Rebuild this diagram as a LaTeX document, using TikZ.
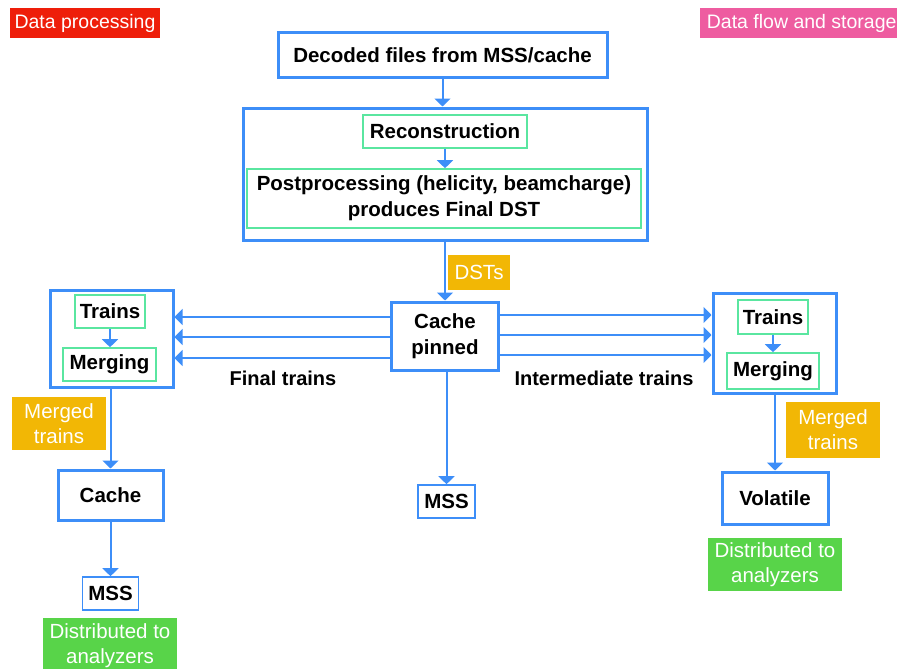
\documentclass[tikz,border=0pt]{standalone}
\usepackage{fontspec}
\setmainfont{Liberation Sans}
\usetikzlibrary{arrows.meta}
\definecolor{bl}{RGB}{61,142,248}
\definecolor{mint}{RGB}{90,230,160}
\definecolor{og}{RGB}{242,183,5}
\definecolor{gf}{RGB}{88,212,73}
\definecolor{rd}{RGB}{238,30,10}
\definecolor{pk}{RGB}{238,92,160}
\tikzset{
  thickbox/.style={draw=bl, line width=3pt, fill=white, inner sep=0pt, align=center,
    font=\fontsize{20.5}{26}\selectfont\bfseries},
  thinbox/.style={draw=bl, line width=1.6pt, fill=white, inner sep=0pt, align=center,
    font=\fontsize{20.5}{26}\selectfont\bfseries},
  mintbox/.style={draw=mint, line width=1.6pt, fill=white, inner sep=0pt, align=center,
    font=\fontsize{20.5}{26}\selectfont\bfseries},
  tag/.style={inner sep=0pt, align=center, text=white,
    font=\fontsize{20.5}{25}\selectfont},
  plain/.style={inner sep=0pt, font=\fontsize{20}{24}\selectfont\bfseries},
  arr/.style={draw=bl, line width=2pt, -{Triangle[width=16pt,length=8pt]}}
}
\begin{document}
\begin{tikzpicture}[x=1pt,y=-1pt]
\useasboundingbox (0,0) rectangle (897,669);
% tags
\node[tag, fill=rd, minimum width=150, minimum height=30, font=\fontsize{19.5}{22}\selectfont] (dp) at (85,23) {Data processing};
\node[tag, fill=pk, minimum width=200, minimum height=30, anchor=west, font=\fontsize{19.5}{22}\selectfont] (dfs) at (700,23) {\hspace*{3pt}Data flow and storage\hfill};
% top
\node[thickbox, minimum width=329, minimum height=45] (dec) at (442.5,55.5) {Decoded files from MSS/cache};
\node[thickbox, minimum width=404, minimum height=132] (big) at (445,174) {};
\node[mintbox, minimum width=164, minimum height=33] (rec) at (445,131.5) {Reconstruction};
\node[mintbox, minimum width=394, minimum height=59] (post) at (444,198.5) {Postprocessing (helicity, beamcharge)\\produces Final DST};
\draw[arr] (dec.south) -- (dec.south |- big.north);
\draw[arr] (rec.south) -- (rec.south |- post.north);
% cache pinned
\node[thickbox, minimum width=107, minimum height=68] (cp) at (445,336) {Cache\\pinned};
\draw[arr] (big.south -| cp.north) -- (cp.north);
\node[tag, fill=og, minimum width=62, minimum height=35] (dst) at (479,272.5) {DSTs};
% left group
\node[thickbox, minimum width=123, minimum height=97] (lb) at (111.5,338.5) {};
\node[mintbox, minimum width=70, minimum height=33] (lt) at (110,311.5) {Trains};
\node[mintbox, minimum width=93, minimum height=33] (lm) at (109.5,364.5) {Merging};
\draw[arr] (lt.south) -- (lt.south |- lm.north);
\foreach \yy in {317,337,358} \draw[arr] (cp.west |- 0,\yy) -- (lb.east |- 0,\yy);
\node[plain] (ft) at (283,378) {Final trains};
% right group
\node[thickbox, minimum width=123, minimum height=100] (rb) at (774.5,343) {};
\node[mintbox, minimum width=70, minimum height=34] (rt) at (773,317) {Trains};
\node[mintbox, minimum width=92, minimum height=36] (rm) at (773,371) {Merging};
\draw[arr] (rt.south) -- (rm.north);
\foreach \yy in {315,335,355} \draw[arr] (cp.east |- 0,\yy) -- (rb.west |- 0,\yy);
\node[plain] (it) at (604,378) {Intermediate trains};
% left bottom
\node[thickbox, minimum width=105, minimum height=50] (lc) at (110.5,495) {Cache};
\draw[arr] (lb.south -| lc.north) -- (lc.north);
\node[tag, fill=og, minimum width=94, minimum height=53] (lmt) at (59,423.5) {Merged\\trains};
\node[thinbox, minimum width=56, minimum height=33] (lmss) at (110.5,593.5) {MSS};
\draw[arr] (lc.south) -- (lmss.north);
\node[tag, fill=gf, minimum width=134, minimum height=56] (lda) at (110,646) {Distributed to\\analyzers};
% middle bottom
\node[thinbox, minimum width=57, minimum height=33] (mmss) at (446.5,501.5) {MSS};
\draw[arr] (cp.south -| mmss.north) -- (mmss.north);
% right bottom
\node[thickbox, minimum width=106, minimum height=52] (vol) at (775,498) {Volatile};
\draw[arr] (rb.south -| vol.north) -- (vol.north);
\node[tag, fill=og, minimum width=94, minimum height=56] (rmt) at (833,430) {Merged\\trains};
\node[tag, fill=gf, minimum width=134, minimum height=53] (rda) at (775,564.5) {Distributed to\\analyzers};
\end{tikzpicture}
\end{document}
